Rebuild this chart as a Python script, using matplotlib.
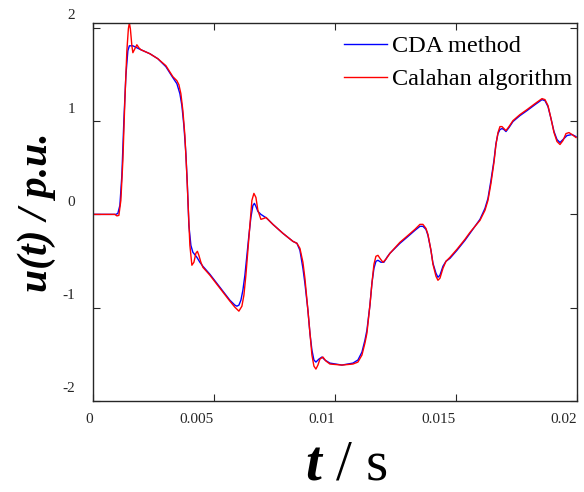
import numpy as np
import matplotlib
matplotlib.use("Agg")
import matplotlib.pyplot as plt
import matplotlib.transforms as mtransforms

plt.rcParams['font.family'] = ['Liberation Serif', 'DejaVu Serif']
plt.rcParams['mathtext.fontset'] = 'custom'
plt.rcParams['mathtext.rm'] = 'Liberation Serif'
plt.rcParams['mathtext.it'] = 'Liberation Serif:italic'
plt.rcParams['mathtext.bf'] = 'Liberation Serif:bold'
plt.rcParams['mathtext.bfit'] = 'Liberation Serif:bold:italic'

# CDA method (time in ms, voltage in p.u.)
t_cda = [0, 0.950, 1.033, 1.116, 1.198, 1.281, 1.364, 1.446, 1.508, 1.653, 1.818, 1.983,
         2.355, 2.686, 3.017, 3.306, 3.471, 3.595, 3.678, 3.760, 3.843, 3.905, 3.967,
         4.050, 4.132, 4.298, 4.421, 4.545, 4.835, 5.248, 5.661, 5.868, 5.950, 6.033,
         6.116, 6.198, 6.281, 6.364, 6.446, 6.529, 6.612, 6.674, 6.736, 6.818, 6.942,
         7.066, 7.190, 7.438, 7.851, 8.264, 8.430, 8.554, 8.678, 8.760, 8.884, 8.967,
         9.050, 9.132, 9.215, 9.339, 9.463, 9.587, 9.793, 10.289, 10.744, 10.950,
         11.116, 11.240, 11.322, 11.446, 11.529, 11.612, 11.694, 11.777, 11.901, 12.025,
         12.149, 12.273, 12.686, 12.975, 13.306, 13.512, 13.636, 13.760, 13.843, 13.967,
         14.050, 14.174, 14.256, 14.339, 14.463, 14.587, 14.752, 15.041, 15.372, 15.579,
         15.785, 15.992, 16.198, 16.322, 16.446, 16.570, 16.653, 16.736, 16.818, 16.901,
         16.983, 17.066, 17.190, 17.355, 17.645, 17.934, 18.264, 18.554, 18.678, 18.802,
         18.926, 19.050, 19.174, 19.298, 19.421, 19.587, 19.793, 19.959]
u_cda = [0, 0, 0.011, 0.096, 0.417, 1.005, 1.487, 1.754, 1.807, 1.807, 1.786, 1.765,
         1.722, 1.668, 1.583, 1.465, 1.401, 1.294, 1.166, 0.952, 0.652, 0.310, -0.118,
         -0.332, -0.406, -0.460, -0.513, -0.556, -0.642, -0.781, -0.920, -0.973, -0.984, -0.973,
         -0.920, -0.813, -0.652, -0.439, -0.225, -0.032, 0.096, 0.118, 0.086, 0.032, 0,
         -0.021, -0.043, -0.107, -0.203, -0.289, -0.310, -0.385, -0.578, -0.738, -1.027, -1.273,
         -1.455, -1.561, -1.583, -1.551, -1.529, -1.561, -1.594, -1.615, -1.594, -1.561,
         -1.476, -1.348, -1.241, -0.973, -0.738, -0.578, -0.503, -0.492, -0.513, -0.513,
         -0.460, -0.417, -0.310, -0.246, -0.171, -0.128, -0.128, -0.160, -0.225, -0.385,
         -0.524, -0.631, -0.674, -0.652, -0.556, -0.503, -0.471, -0.385, -0.278, -0.203,
         -0.128, -0.053, 0.064, 0.171, 0.364, 0.578, 0.759, 0.866, 0.909, 0.920,
         0.909, 0.888, 0.930, 0.995, 1.059, 1.112, 1.176, 1.230, 1.219, 1.155,
         1.027, 0.888, 0.802, 0.770, 0.802, 0.845, 0.856, 0.834]

# Calahan algorithm
t_cal = [0, 0.909, 0.992, 1.074, 1.157, 1.240, 1.322, 1.405, 1.467, 1.508, 1.550, 1.612,
         1.653, 1.736, 1.818, 1.901, 1.983, 2.355, 2.686, 3.017, 3.306, 3.471, 3.554,
         3.636, 3.719, 3.802, 3.884, 3.946, 4.008, 4.091, 4.174, 4.256, 4.318, 4.380,
         4.463, 4.545, 4.835, 5.248, 5.661, 5.868, 6.033, 6.157, 6.240, 6.322, 6.405,
         6.488, 6.570, 6.653, 6.736, 6.818, 6.942, 7.066, 7.149, 7.273, 7.438, 7.851,
         8.264, 8.430, 8.554, 8.678, 8.760, 8.884, 8.967, 9.050, 9.132, 9.215, 9.298,
         9.380, 9.504, 9.628, 9.793, 10.289, 10.744, 10.950, 11.116, 11.240, 11.322,
         11.446, 11.529, 11.612, 11.694, 11.777, 11.860, 11.983, 12.107, 12.273, 12.686,
         12.975, 13.306, 13.512, 13.636, 13.760, 13.843, 13.967, 14.050, 14.174, 14.256,
         14.339, 14.463, 14.587, 14.752, 15.041, 15.372, 15.579, 15.785, 15.992, 16.198,
         16.322, 16.446, 16.570, 16.653, 16.736, 16.818, 16.901, 16.983, 17.066, 17.190,
         17.355, 17.645, 17.934, 18.264, 18.554, 18.678, 18.802, 18.926, 19.050, 19.174,
         19.298, 19.421, 19.545, 19.669, 19.793, 19.959]
u_cal = [0, 0, -0.016, -0.011, 0.150, 0.578, 1.219, 1.754, 1.989, 2.053, 1.989, 1.807,
         1.733, 1.775, 1.818, 1.786, 1.765, 1.722, 1.668, 1.594, 1.476, 1.433, 1.390,
         1.294, 1.112, 0.845, 0.417, 0.043, -0.332, -0.545, -0.513, -0.417, -0.396, -0.439,
         -0.513, -0.567, -0.652, -0.791, -0.930, -0.995, -1.037, -0.984, -0.866, -0.652, -0.385,
         -0.118, 0.150, 0.225, 0.182, 0.043, -0.053, -0.043, -0.032, -0.064, -0.107, -0.203,
         -0.289, -0.310, -0.364, -0.513, -0.684, -1.027, -1.273, -1.508, -1.626, -1.658, -1.615,
         -1.551, -1.529, -1.572, -1.604, -1.615, -1.604, -1.583, -1.508, -1.380, -1.273,
         -0.973, -0.738, -0.535, -0.449, -0.439, -0.471, -0.513, -0.481, -0.417, -0.299,
         -0.235, -0.160, -0.107, -0.107, -0.150, -0.214, -0.385, -0.535, -0.663, -0.706,
         -0.684, -0.578, -0.503, -0.460, -0.374, -0.267, -0.193, -0.128, -0.064, 0.043,
         0.150, 0.332, 0.556, 0.749, 0.877, 0.941, 0.941, 0.920, 0.898, 0.941,
         1.005, 1.070, 1.123, 1.187, 1.241, 1.230, 1.166, 1.027, 0.877, 0.781,
         0.749, 0.791, 0.866, 0.877, 0.856, 0.824]

x_ticks = [0, 0.005, 0.01, 0.015, 0.02]
x_labels = ['0', '0.005', '0.01', '0.015', '0.02']
y_ticks = [-2, -1, 0, 1, 2]

fig = plt.figure(figsize=(5.84, 4.92), dpi=100)
ax = fig.add_axes([0.159, 0.185, 0.829, 0.768])

ax.plot(np.array(t_cda) * 1e-3, u_cda, color='#0000ff', lw=1.0, label='CDA method')
ax.plot(np.array(t_cal) * 1e-3, u_cal, color='#ff0000', lw=1.0, label='Calahan algorithm')

ax.set_xlim(0, 0.02)
ax.set_ylim(-2, 2.05)
ax.set_xticks(x_ticks)
ax.set_xticklabels(x_labels)
ax.set_yticks(y_ticks)
ax.set_yticklabels([str(v) for v in y_ticks])

ax.tick_params(direction='in', top=True, right=True, length=5, width=0.8,
               labelsize=11, colors='#262626')
ax.tick_params(axis='x', pad=9)
ax.tick_params(axis='y', pad=13)
for s in ax.spines.values():
    s.set_color('#262626')
    s.set_linewidth(1.0)

# tick labels sit to the left of / above their ticks
for lab in ax.get_xticklabels():
    lab.set_horizontalalignment('right')
shift = mtransforms.ScaledTranslation(0, 4 / 72, fig.dpi_scale_trans)
for lab in ax.get_yticklabels():
    lab.set_verticalalignment('bottom')
    lab.set_transform(lab.get_transform() + shift)

ax.set_xlabel(r'$\mathbfit{t}$ / s', fontsize=41)
ax.xaxis.set_label_coords(0.523, -0.172)
ax.xaxis.label.set_verticalalignment('center')
ax.set_ylabel('u(t) / p.u.', fontsize=30, fontweight='bold', fontstyle='italic',
              labelpad=4)

ax.legend(loc='upper right', frameon=False, fontsize=17.5, handlelength=1.8,
          handletextpad=0.2, labelspacing=0.45, borderaxespad=0.1,
          bbox_to_anchor=(1.016, 1.0))

fig.savefig('out.png', dpi=100)
